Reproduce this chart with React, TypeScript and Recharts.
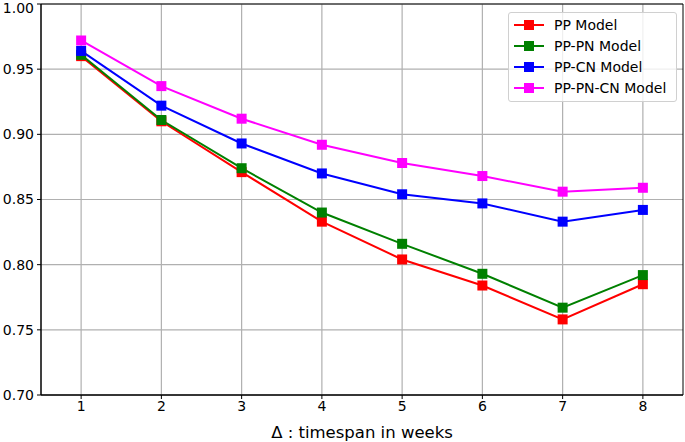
import { LineChart, Line, XAxis, YAxis, CartesianGrid, ReferenceArea } from 'recharts';

const weeks = [1, 2, 3, 4, 5, 6, 7, 8];
const ppModel = [0.960, 0.910, 0.871, 0.833, 0.804, 0.784, 0.758, 0.785];
const ppPnModel = [0.961, 0.911, 0.874, 0.840, 0.816, 0.793, 0.767, 0.792];
const ppCnModel = [0.964, 0.922, 0.893, 0.870, 0.854, 0.847, 0.833, 0.842];
const ppPnCnModel = [0.972, 0.937, 0.912, 0.892, 0.878, 0.868, 0.856, 0.859];
const yTicks = [0.7, 0.75, 0.8, 0.85, 0.9, 0.95, 1.0];

const series = [
  { key: 'pp', name: 'PP Model', color: '#ff0000', values: ppModel },
  { key: 'pppn', name: 'PP-PN Model', color: '#008000', values: ppPnModel },
  { key: 'ppcn', name: 'PP-CN Model', color: '#0000ff', values: ppCnModel },
  { key: 'pppncn', name: 'PP-PN-CN Model', color: '#ff00ff', values: ppPnCnModel },
];

const chartData = weeks.map((w, i) => {
  const row: { [k: string]: number } = { week: w };
  series.forEach(s => { row[s.key] = s.values[i]; });
  return row;
});

const font = '"DejaVu Sans", sans-serif';

const SquareDot = (props: any) => {
  const { cx, cy, stroke } = props;
  if (cx == null || cy == null) return null;
  return <rect x={cx - 5} y={cy - 5} width={10} height={10} fill={stroke} />;
};

const LegendBox = () => (
  <div style={{
    position: 'absolute', left: 508, top: 12, boxSizing: 'border-box', width: 169,
    border: '1px solid #d0d0d0', borderRadius: 3, background: 'rgba(255,255,255,0.8)',
    padding: '2px 4px 3px 5px', fontFamily: font, fontSize: 14, color: '#000',
  }}>
    {series.map(s => (
      <div key={s.key} style={{ display: 'flex', alignItems: 'center', height: 20.8 }}>
        <svg width={30} height={12} style={{ marginRight: 10 }}>
          <line x1={0} y1={6} x2={30} y2={6} stroke={s.color} strokeWidth={2} />
          <rect x={10} y={1} width={10} height={10} fill={s.color} />
        </svg>
        <span>{s.name}</span>
      </div>
    ))}
  </div>
);

export default function App() {
  return (
    <div style={{ position: 'absolute', left: 0, top: 0, width: 685, height: 442, background: '#fff' }}>
      <LineChart width={685} height={442} data={chartData} margin={{ top: 4, right: 2, left: 0, bottom: 0 }}>
        <CartesianGrid stroke="#b0b0b0" strokeWidth={1.2} horizontalValues={yTicks} verticalValues={weeks} />
        <XAxis
          dataKey="week"
          type="number"
          domain={[0.5, 8.5]}
          ticks={weeks}
          allowDataOverflow
          height={47}
          tickSize={4}
          tickMargin={2}
          axisLine={{ stroke: '#000' }}
          tickLine={{ stroke: '#000' }}
          tick={{ fill: '#000', fontSize: 14, fontFamily: font }}
          label={{ value: 'Δ : timespan in weeks', position: 'insideBottom', offset: 4, fill: '#000', fontSize: 16.5, fontFamily: font }}
        />
        <YAxis
          type="number"
          domain={[0.7, 1.0]}
          ticks={yTicks}
          allowDataOverflow
          width={41}
          tickSize={4}
          tickMargin={3}
          axisLine={{ stroke: '#000' }}
          tickLine={{ stroke: '#000' }}
          tickFormatter={(v: number) => v.toFixed(2)}
          tick={{ fill: '#000', fontSize: 14, fontFamily: font }}
        />
        <ReferenceArea x1={0.5} x2={8.5} y1={0.7} y2={1.0} fill="none" stroke="#000" strokeWidth={1} ifOverflow="extendDomain" />
        {series.map(s => (
          <Line
            key={s.key}
            dataKey={s.key}
            name={s.name}
            stroke={s.color}
            strokeWidth={2}
            dot={<SquareDot />}
            activeDot={false}
            isAnimationActive={false}
          />
        ))}
      </LineChart>
      <LegendBox />
    </div>
  );
}
